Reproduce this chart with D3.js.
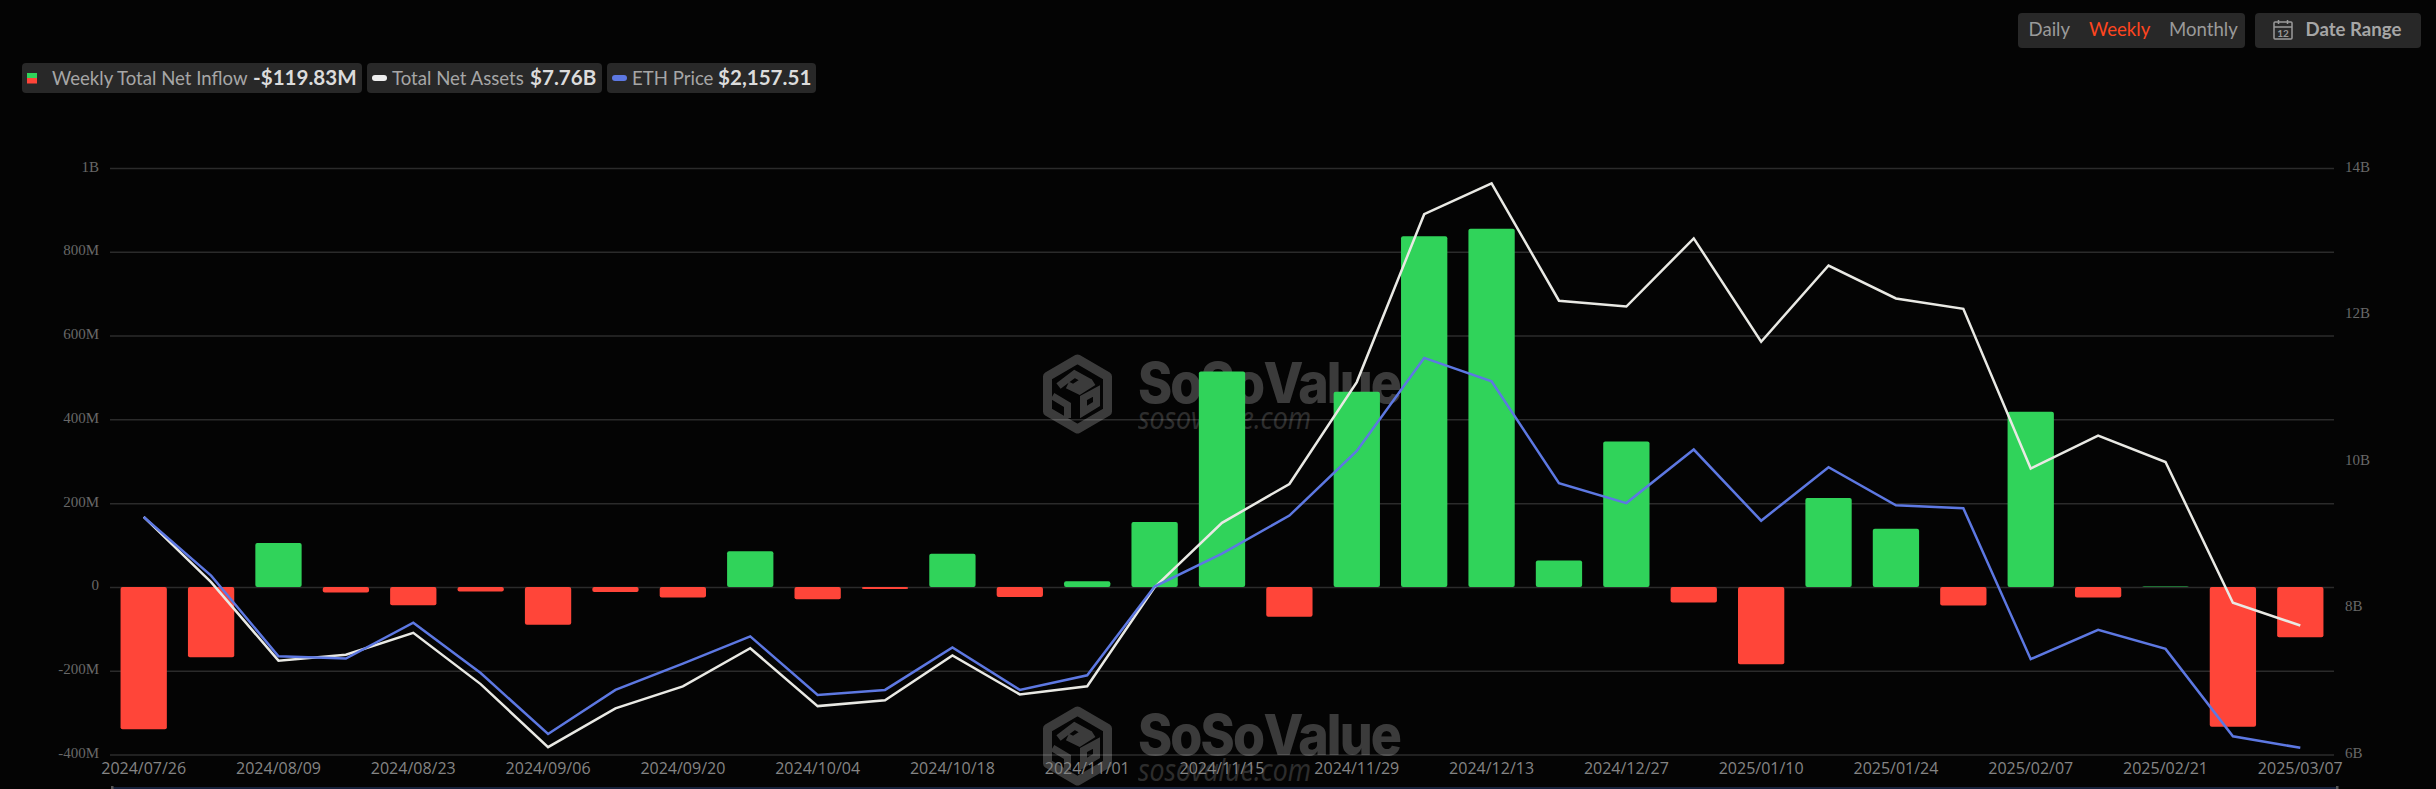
<!DOCTYPE html>
<html>
<head>
<meta charset="utf-8">
<script src="https://cdn.jsdelivr.net/npm/d3@7"></script>
<style>
  html, body { margin: 0; background: #040404; }
  svg { display: block; }
</style>
</head>
<body>
<svg id="chart" width="2436" height="789"></svg>
<script>
// weekly data
var dates = ["2024/07/26","2024/08/02","2024/08/09","2024/08/16","2024/08/23","2024/08/30","2024/09/06","2024/09/13","2024/09/20","2024/09/27","2024/10/04","2024/10/11","2024/10/18","2024/10/25","2024/11/01","2024/11/08","2024/11/15","2024/11/22","2024/11/29","2024/12/06","2024/12/13","2024/12/20","2024/12/27","2025/01/03","2025/01/10","2025/01/17","2025/01/24","2025/01/31","2025/02/07","2025/02/14","2025/02/21","2025/02/28","2025/03/07"];
var netInflow = [-339.6,-168,105,-13.5,-44,-11,-90,-12,-25.5,85,-29.4,-5,79,-24,13.5,155,514,-71,466,837,855,63,347,-37,-184.5,212,139,-44.5,418,-25.5,1,-334,-119.83];
var netAssets = [9.24,8.35,7.28,7.36,7.66,6.96,6.10,6.63,6.93,7.45,6.66,6.74,7.35,6.82,6.93,8.28,9.16,9.69,11.08,13.37,13.79,12.19,12.11,13.04,11.63,12.67,12.22,12.08,9.90,10.35,9.99,8.07,7.76];
var ethPrice = [3283,2997,2604,2593,2768,2522,2225,2440,2568,2701,2415,2440,2647,2440,2511,2944,3105,3290,3605,4059,3945,3448,3351,3612,3265,3526,3340,3326,2590,2733,2640,2214,2157.51];

var leftTicks = [-400,-200,0,200,400,600,800,1000];
var rightTicks = [6,8,10,12,14];

var svg = d3.select("#chart");
var left = 110, right = 2334, top_ = 168, bottom = 754.5;

var x = d3.scaleBand().domain(dates).range([left, right]).paddingInner(0.313).paddingOuter(0.1565);
var yFlow = d3.scaleLinear().domain([-400, 1000]).range([bottom, top_]);
var yAssets = d3.scaleLinear().domain([6, 14]).range([bottom, top_]);
var yEth = d3.scaleLinear().domain([2125, 4985]).range([bottom, top_]);
var cx = function(d) { return x(d) + x.bandwidth() / 2; };

function fmtLeft(v) {
  if (v == 1000) return "1B";
  return v == 0 ? "0" : v + "M";
}

// grid + left axis
var gLeft = svg.append("g")
  .attr("transform", "translate(" + left + ",0)")
  .call(d3.axisLeft(yFlow).tickValues(leftTicks).tickFormat(fmtLeft).tickSize(-(right - left)).tickPadding(11));
gLeft.select(".domain").remove();
gLeft.selectAll("line").attr("stroke", "#2b2b2b").attr("stroke-width", 1.5);
gLeft.selectAll("text").attr("fill", "#686868").attr("font-family", "'Liberation Serif'").attr("font-size", 15).attr("dy", "0.2em");

var gRight = svg.append("g")
  .attr("transform", "translate(" + right + ",0)")
  .call(d3.axisRight(yAssets).tickValues(rightTicks).tickFormat(function(d) { return d + "B"; }).tickSize(0).tickPadding(11));
gRight.select(".domain").remove();
gRight.selectAll("text").attr("fill", "#686868").attr("font-family", "'Liberation Serif'").attr("font-size", 15).attr("dy", "0.2em");

// watermarks
function watermark(dy) {
  var g = svg.append("g").attr("transform", "translate(0," + dy + ")").attr("opacity", 0.22);
  var cxLogo = 1077.5, cyLogo = 394;
  g.append("path")
    .attr("transform", "translate(" + cxLogo + "," + cyLogo + ")")
    .attr("d", "M0,-35 L30,-17.5 L30,17.5 L0,35 L-30,17.5 L-30,-17.5 Z")
    .attr("fill", "none").attr("stroke", "#fff").attr("stroke-width", 9).attr("stroke-linejoin", "round");
  g.append("path")
    .attr("transform", "translate(" + cxLogo + "," + cyLogo + ")")
    .attr("d", "M-19,-8 L-3,-20 L8,-14 L-3,-7 M16,-12 L2,-3 L-10,-9 M-25,2 L-10,11 L-10,24 M6,18 L6,4 L19,-3 L19,10 Z")
    .attr("fill", "none").attr("stroke", "#fff").attr("stroke-width", 7);
  g.append("text").attr("x", 1138).attr("y", 403)
    .attr("font-family", "Inter").attr("font-weight", 800).attr("font-size", 56)
    .attr("word-spacing", -10).attr("letter-spacing", -2)
    .attr("textLength", 262).attr("lengthAdjust", "spacingAndGlyphs")
    .attr("fill", "#fff").text("SoSo Value");
  g.append("text").attr("x", 1138).attr("y", 429)
    .attr("font-family", "'Open Sans'").attr("font-style", "italic").attr("font-size", 31)
    .attr("textLength", 173).attr("lengthAdjust", "spacingAndGlyphs")
    .attr("fill", "#fff").attr("opacity", 0.75).text("sosovalue.com");
}
watermark(0);
watermark(352);

// bars
svg.append("g").selectAll("rect")
  .data(netInflow)
  .enter().append("rect")
    .attr("x", function(d, i) { return x(dates[i]); })
    .attr("y", function(d) { return yFlow(Math.max(d, 0)); })
    .attr("width", x.bandwidth())
    .attr("height", function(d) { return Math.abs(yFlow(d) - yFlow(0)); })
    .attr("rx", 2)
    .attr("fill", function(d) { return d >= 0 ? "#30d35a" : "#ff4539"; });

// lines
var lineAssets = d3.line().x(function(d, i) { return cx(dates[i]); }).y(function(d) { return yAssets(d); });
var lineEth = d3.line().x(function(d, i) { return cx(dates[i]); }).y(function(d) { return yEth(d); });
svg.append("path").attr("d", lineAssets(netAssets)).attr("fill", "none").attr("stroke", "#e9e9e4").attr("stroke-width", 2.5);
svg.append("path").attr("d", lineEth(ethPrice)).attr("fill", "none").attr("stroke", "#5d78e2").attr("stroke-width", 2.5);

// x axis
var gx = svg.append("g")
  .attr("transform", "translate(0," + bottom + ")")
  .call(d3.axisBottom(x).tickValues(dates.filter(function(d, i) { return i % 2 == 0; })).tickSize(0).tickPadding(8));
gx.select(".domain").remove();
gx.selectAll("text").attr("fill", "#858585").attr("font-family", "'Open Sans'").attr("font-size", 16);

// slider strip at the bottom edge
svg.append("rect").attr("x", 113).attr("y", 787).attr("width", 2224).attr("height", 2).attr("fill", "#16213a");
svg.append("rect").attr("x", 111).attr("y", 786).attr("width", 2.5).attr("height", 3).attr("fill", "#555");
svg.append("rect").attr("x", 2336).attr("y", 786).attr("width", 2.5).attr("height", 3).attr("fill", "#555");

// legend pills
var pills = [
  {x: 22, w: 340, label: "Weekly Total Net Inflow", lx: 52, value: "-$119.83M", vx: 253},
  {x: 367, w: 235, label: "Total Net Assets", lx: 392, value: "$7.76B", vx: 530},
  {x: 607, w: 209, label: "ETH Price", lx: 632, value: "$2,157.51", vx: 718}
];
pills.forEach(function(p) {
  svg.append("rect").attr("x", p.x).attr("y", 63).attr("width", p.w).attr("height", 30).attr("rx", 4).attr("fill", "#282828");
  svg.append("text").attr("x", p.lx).attr("y", 85).attr("font-family", "Lato").attr("font-size", 18.6).attr("fill", "#a6a6a6").text(p.label);
  svg.append("text").attr("x", p.vx).attr("y", 85).attr("font-family", "Lato").attr("font-weight", 700).attr("font-size", 20.6).attr("fill", "#dcdcdc").text(p.value);
});
svg.append("rect").attr("x", 27).attr("y", 73).attr("width", 10).attr("height", 5.5).attr("fill", "#30d35a");
svg.append("rect").attr("x", 27).attr("y", 78).attr("width", 10).attr("height", 5.5).attr("fill", "#ff4539");
svg.append("rect").attr("x", 372).attr("y", 75).attr("width", 15).attr("height", 6).attr("rx", 3).attr("fill", "#eeeeee");
svg.append("rect").attr("x", 612).attr("y", 75).attr("width", 15).attr("height", 6).attr("rx", 3).attr("fill", "#5d78e2");

// top right buttons
svg.append("rect").attr("x", 2018).attr("y", 13).attr("width", 227).attr("height", 35).attr("rx", 4).attr("fill", "#282828");
svg.append("rect").attr("x", 2255).attr("y", 13).attr("width", 166).attr("height", 35).attr("rx", 4).attr("fill", "#282828");
[["Daily", 2028.5, "#9a9a9a"], ["Weekly", 2089, "#ff451f"], ["Monthly", 2169, "#9a9a9a"]].forEach(function(b) {
  svg.append("text").attr("x", b[1]).attr("y", 36).attr("font-family", "Lato").attr("font-size", 18.6).attr("fill", b[2]).text(b[0]);
});
svg.append("text").attr("x", 2305.5).attr("y", 36).attr("font-family", "Lato").attr("font-weight", 700).attr("font-size", 18.6).attr("fill", "#a6a6a6").text("Date Range");

// calendar icon
var cal = svg.append("g").attr("fill", "none").attr("stroke", "#9a9a9a").attr("stroke-width", 1.5);
cal.append("rect").attr("x", 2274).attr("y", 22).attr("width", 18).attr("height", 17).attr("rx", 1);
cal.append("path").attr("d", "M2274,27 H2292 M2278.5,20 V24 M2287.5,20 V24");
svg.append("text").attr("x", 2283).attr("y", 37).attr("text-anchor", "middle").attr("font-family", "Lato").attr("font-weight", 700).attr("font-size", 10).attr("fill", "#9a9a9a").text("12");
</script>
</body>
</html>
